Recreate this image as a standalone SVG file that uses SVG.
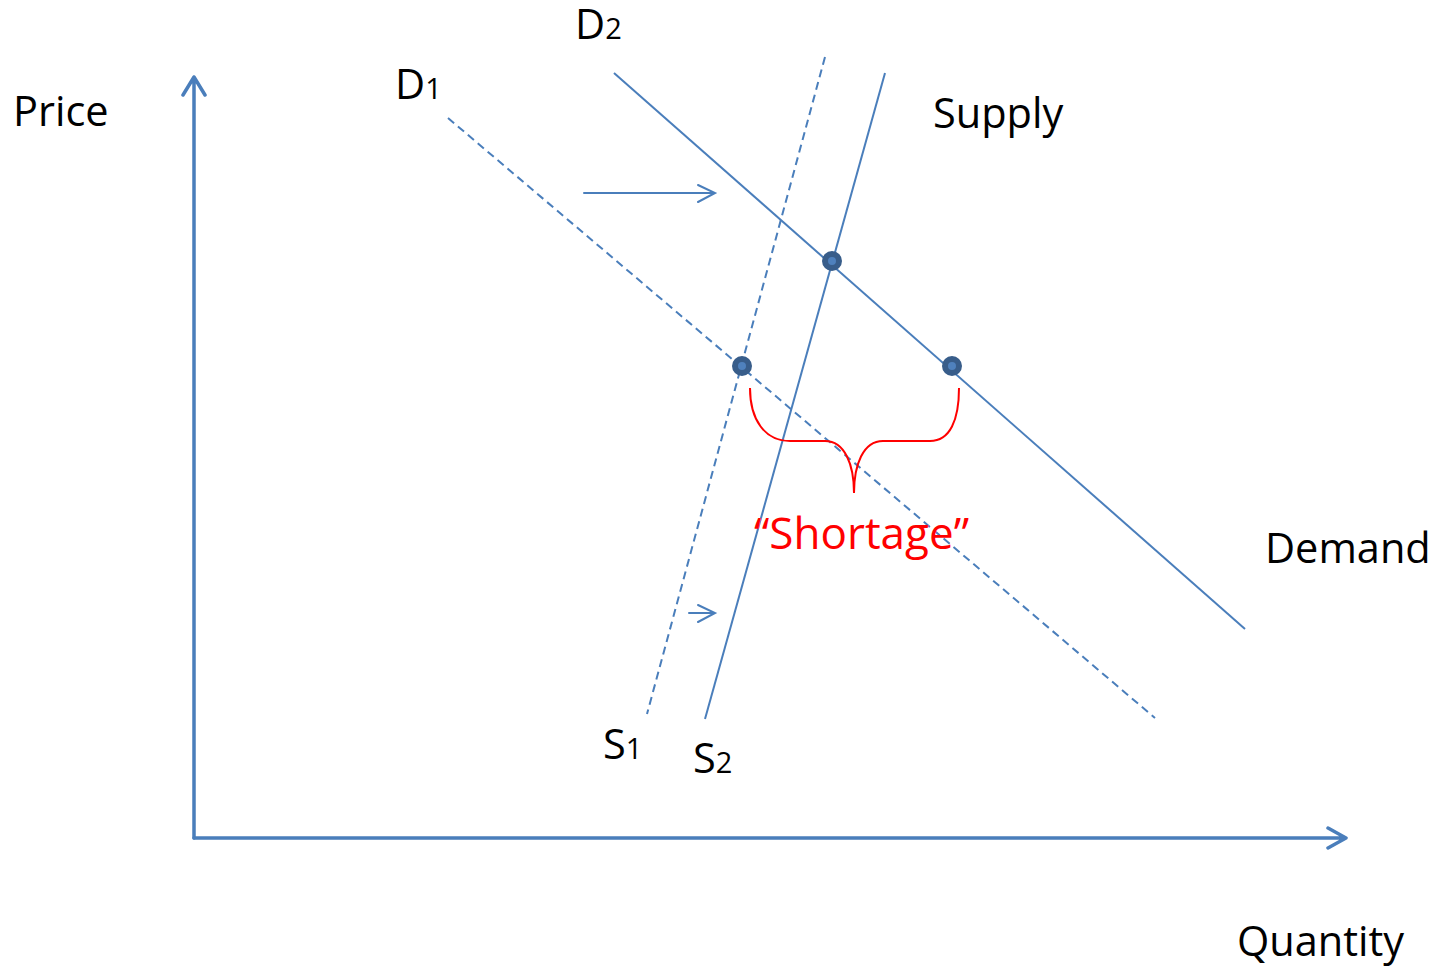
<svg xmlns="http://www.w3.org/2000/svg" width="1434" height="968" viewBox="0 0 1434 968">
<style>
.ln{stroke:#4a7ebb;stroke-width:2;fill:none}
.ds{stroke-dasharray:8 5}
.ax{stroke:#4a7ebb;stroke-width:3.5;fill:none;stroke-linecap:round;stroke-linejoin:round}
.ah{stroke:#4a7ebb;stroke-width:2;fill:none;stroke-linecap:round}
.t{font-family:"Open Sans","Liberation Sans",sans-serif;font-size:41.5px;fill:#000}
.s{font-size:29px}
.pt{fill:#4f81bd;stroke:#385d8a;stroke-width:6}
</style>
<rect width="1434" height="968" fill="#fff"/>
<g id="connectors">
  <path class="ax" d="M194,838 V77 M183,95 L194,77 L205,95"/>
  <path class="ax" d="M194,838 H1346 M1328,828 L1346,838 L1328,848"/>
  <line id="d1" class="ln ds" x1="448" y1="118" x2="1155" y2="718"/>
  <line id="d2" class="ln" x1="614" y1="73" x2="1245" y2="629"/>
  <line id="s1" class="ln ds" x1="825" y1="57" x2="647" y2="714"/>
  <line id="s2" class="ln" x1="885" y1="73" x2="705" y2="719"/>
  <path class="ah" d="M584,193 H715 M698,185 L715,193 L698,202"/>
  <path class="ah" d="M689,613 H715 M698,605 L715,613 L698,622"/>
  <path d="M750,388 C750,420 765,441 790,441 H825 C845,441 854,465 854,493 C854,465 863,441 883,441 H930 C950,441 959,420 959,388" fill="none" stroke="#ff0000" stroke-width="2"/>
</g>
<g id="points">
  <circle class="pt" cx="832" cy="261" r="7"/>
  <circle class="pt" cx="742" cy="366" r="7"/>
  <circle class="pt" cx="952" cy="366" r="7"/>
</g>
<g id="labels">
  <text class="t" x="13" y="126">Price</text>
  <text class="t" x="575" y="39">D<tspan class="s">2</tspan></text>
  <text class="t" x="395" y="99">D<tspan class="s">1</tspan></text>
  <text class="t" x="933" y="128">Supply</text>
  <text class="t" x="1265" y="563">Demand</text>
  <text class="t" x="1237" y="956">Quantity</text>
  <text class="t" x="603" y="759">S<tspan class="s">1</tspan></text>
  <text class="t" x="693" y="773">S<tspan class="s">2</tspan></text>
  <text class="t" x="754" y="549" style="fill:#ff0000;font-size:44px">“Shortage”</text>
</g>
</svg>
